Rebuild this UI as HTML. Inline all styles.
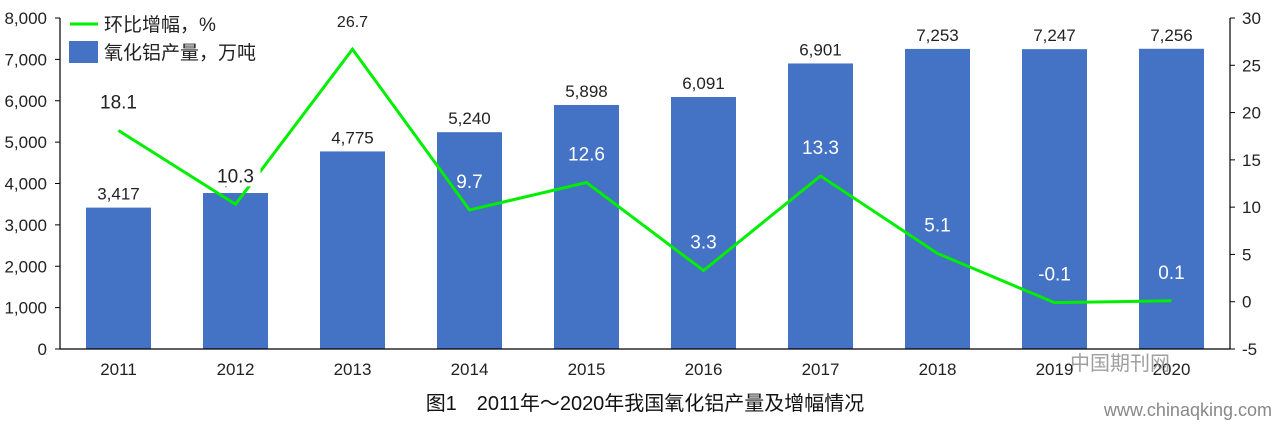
<!DOCTYPE html>
<html><head><meta charset="utf-8"><style>
body{margin:0;background:#fff;width:1277px;height:422px;overflow:hidden}
text{font-family:"Liberation Sans","Noto Sans CJK SC",sans-serif}
</style></head><body>
<svg id="c" width="1277" height="422"></svg>
<script>
const years=["2011","2012","2013","2014","2015","2016","2017","2018","2019","2020"];
const output=[3417,3770,4775,5240,5898,6091,6901,7253,7247,7256];
const growth=[18.1,10.3,26.7,9.7,12.6,3.3,13.3,5.1,-0.1,0.1];
const leftTicks=[0,1000,2000,3000,4000,5000,6000,7000,8000];
const rightTicks=[-5,0,5,10,15,20,25,30];
const growthLabelDark=[true,true,true,false,false,false,false,false,false,false];
const NS="http://www.w3.org/2000/svg";
const svg=document.getElementById('c');
const X0=60,X1=1230,YB=349,YT=18;
const band=(X1-X0)/years.length;
const xc=i=>X0+band*(i+0.5);
const yL=v=>YB-(v/8000)*(YB-YT);
const yR=v=>YB-((v+5)/35)*(YB-YT);
function el(t,a,p){const e=document.createElementNS(NS,t);for(const k in a)e.setAttribute(k,a[k]);(p||svg).appendChild(e);return e;}
function fmt(n){return n.toLocaleString('en-US');}
// bars
output.forEach((v,i)=>{
 const r=el('rect',{x:xc(i)-32.5,y:yL(v),width:65,height:YB-yL(v),fill:'#4472c4'});
 
 
 const t=el('text',{x:xc(i),y:yL(v)-8,'text-anchor':'middle','font-size':17,fill:'#222'});
 t.textContent=fmt(v);
 
 
});
// axes
el('line',{x1:X0,y1:YT,x2:X0,y2:YB,stroke:'#000','stroke-width':1.2});
el('line',{x1:X1,y1:YT,x2:X1,y2:YB,stroke:'#000','stroke-width':1.2});
el('line',{x1:X0,y1:YB,x2:X1,y2:YB,stroke:'#000','stroke-width':1.2});
leftTicks.forEach(v=>{
 el('line',{x1:X0-5,y1:yL(v),x2:X0,y2:yL(v),stroke:'#000'});
 const t=el('text',{x:47,y:yL(v)+6,'text-anchor':'end','font-size':17,fill:'#222'});
 t.textContent=fmt(v);
 
 
});
rightTicks.forEach(v=>{
 el('line',{x1:X1,y1:yR(v),x2:X1+5,y2:yR(v),stroke:'#000'});
 const t=el('text',{x:1242,y:yR(v)+6,'font-size':17,fill:'#222'});
 t.textContent=v;
 
 
});
years.forEach((y,i)=>{
 const t=el('text',{x:xc(i),y:375,'text-anchor':'middle','font-size':17,fill:'#222'});
 t.textContent=y;
 
 
});
// line
const pl=el('polyline',{points:growth.map((v,i)=>xc(i)+','+yR(v)).join(' '),fill:'none',stroke:'#00ee00','stroke-width':3});


growth.forEach((v,i)=>{
 const x=xc(i),y=yR(v)-22;
 if(i===1){el('rect',{x:x-25,y:y-18,width:50,height:22,fill:'#fff'});}
 const t=el('text',{x:x,y:y,'text-anchor':'middle','font-size':i===2?16:19,fill:growthLabelDark[i]?'#222':'#fff'});
 t.textContent=v;
 
 
});
// legend
el('line',{x1:70,y1:24,x2:98,y2:24,stroke:'#00ee00','stroke-width':3});
let t=el('text',{x:104,y:31,'font-size':19,fill:'#222'});t.textContent='环比增幅，%';


el('rect',{x:69,y:41,width:29,height:22,fill:'#4472c4'});
t=el('text',{x:104,y:59,'font-size':19,fill:'#222'});t.textContent='氧化铝产量，万吨';


// caption
t=el('text',{x:645,y:410,'text-anchor':'middle','font-size':20,fill:'#111','font-family':'"Liberation Serif","Noto Serif CJK SC",serif'});
t.textContent='图1　2011年～2020年我国氧化铝产量及增幅情况';


t=el('text',{x:1120,y:370,'text-anchor':'middle','font-size':20,fill:'#888','opacity':0.8,'font-family':'"Noto Serif CJK SC",serif'});
t.textContent='中国期刊网';


t=el('text',{x:1272,y:416,'text-anchor':'end','font-size':18,fill:'#888','font-family':'"Liberation Mono",monospace'});
t.textContent='www.chinaqking.com';


</script>
</body></html>
